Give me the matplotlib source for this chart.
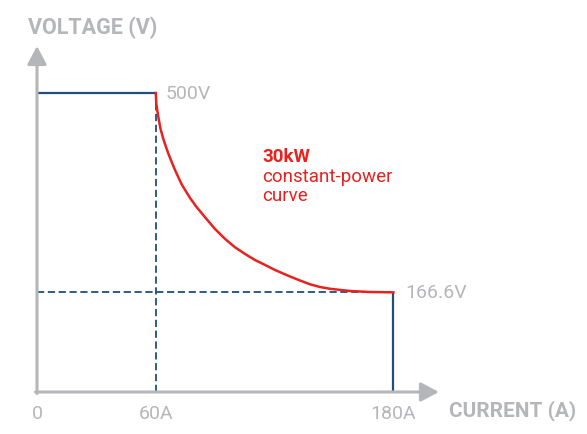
import matplotlib.pyplot as plt

# operating envelope (A, V)
max_voltage = 500
min_voltage = 166.6
knee_current = 60
max_current = 180
power_label = "30kW"

# constant-power curve as drawn in the chart
curve_current = [60, 60.25, 61.3, 62.4, 63.8, 66.3, 69.7, 73.1, 77.3, 80.7,
                 84.9, 89.9, 95.0, 100.0, 105.1, 110.1, 115.2, 120.2, 127.8,
                 132.8, 137.9, 142.9, 148.0, 158.1, 168.2, 180]
curve_voltage = [500, 481.6, 459.4, 439.8, 423.1, 398.8, 371.2, 347.0, 324.4, 308.9,
                 292.1, 272.6, 255.9, 242.0, 230.8, 220.7, 212.4, 204.0, 193.1,
                 186.5, 180.1, 175.6, 172.6, 168.9, 167.2, 166.6]

x_ticks = [0, 60, 180]
x_tick_labels = ["0", "60A", "180A"]

gray = "#b5b6b9"
blue = "#1f4f7c"
red = "#e8221f"

plt.rcParams['font.family'] = ['Roboto', 'DejaVu Sans']

fig = plt.figure(figsize=(5.87, 4.35), dpi=100)
ax = fig.add_axes([0, 0, 1, 1])
ax.axis('off')

# pixel layout: origin at (37, 393) px, 1.98 px per A, 0.598 px per V
px_a = 1.98
px_v = 0.598
ax.set_xlim(-37 / px_a, (587 - 37) / px_a)
ax.set_ylim(-42 / px_v, (435 - 42) / px_v)


def px(x, y):
    # pixel position (top-down) -> data coords
    return (x - 37) / px_a, (393 - y) / px_v


# axes with arrows
arrow = dict(arrowstyle='-|>,head_length=1.1,head_width=0.58', lw=2.2,
             color=gray, shrinkA=0, shrinkB=0, mutation_scale=10)
ax.annotate('', xy=px(37, 47), xytext=px(37, 394.5), arrowprops=arrow)
ax.annotate('', xy=px(439, 393), xytext=px(35.5, 393), arrowprops=arrow)

# dashed guides
ax.plot([knee_current, knee_current], [0, max_voltage], color=blue, lw=1.3,
        linestyle=(0, (4, 2)))
ax.plot([0, max_current], [min_voltage, min_voltage], color=blue, lw=1.3,
        linestyle=(0, (4, 2)))

# envelope
ax.plot([0, knee_current], [max_voltage, max_voltage], color=blue, lw=1.6,
        solid_capstyle='butt')
ax.plot([max_current, max_current], [min_voltage, 0], color=blue, lw=1.6,
        solid_capstyle='butt')
ax.plot(curve_current, curve_voltage, color=red, lw=1.8,
        solid_joinstyle='round')

# tick labels
for x, lab in zip(x_ticks, x_tick_labels):
    ax.annotate(lab, xy=(x, 0), xytext=(0, -12), textcoords='offset pixels',
                ha='center', va='top', fontsize=14, color=gray)

ax.annotate(f"{max_voltage}V", xy=(knee_current, max_voltage), xytext=(10, 0),
            textcoords='offset pixels', ha='left', va='center', fontsize=14, color=gray)
ax.annotate(f"{min_voltage}V", xy=(max_current, min_voltage), xytext=(12, 0),
            textcoords='offset pixels', ha='left', va='center', fontsize=14, color=gray)

# axis titles
ax.text(*px(28, 28), "VOLTAGE (V)", ha='left', va='center', fontsize=15.5,
        fontweight='bold', color=gray)
ax.text(*px(449, 411), "CURRENT (A)", ha='left', va='center', fontsize=15,
        fontweight='bold', color=gray)

# curve annotation
ax.text(*px(262, 162), power_label, ha='left', va='baseline', fontsize=13.5,
        fontweight='bold', color=red)
ax.text(*px(262, 182), "constant-power", ha='left', va='baseline', fontsize=13.5,
        color=red)
ax.text(*px(262, 201), "curve", ha='left', va='baseline', fontsize=13.5,
        color=red)

fig.savefig("out.png", dpi=100)
